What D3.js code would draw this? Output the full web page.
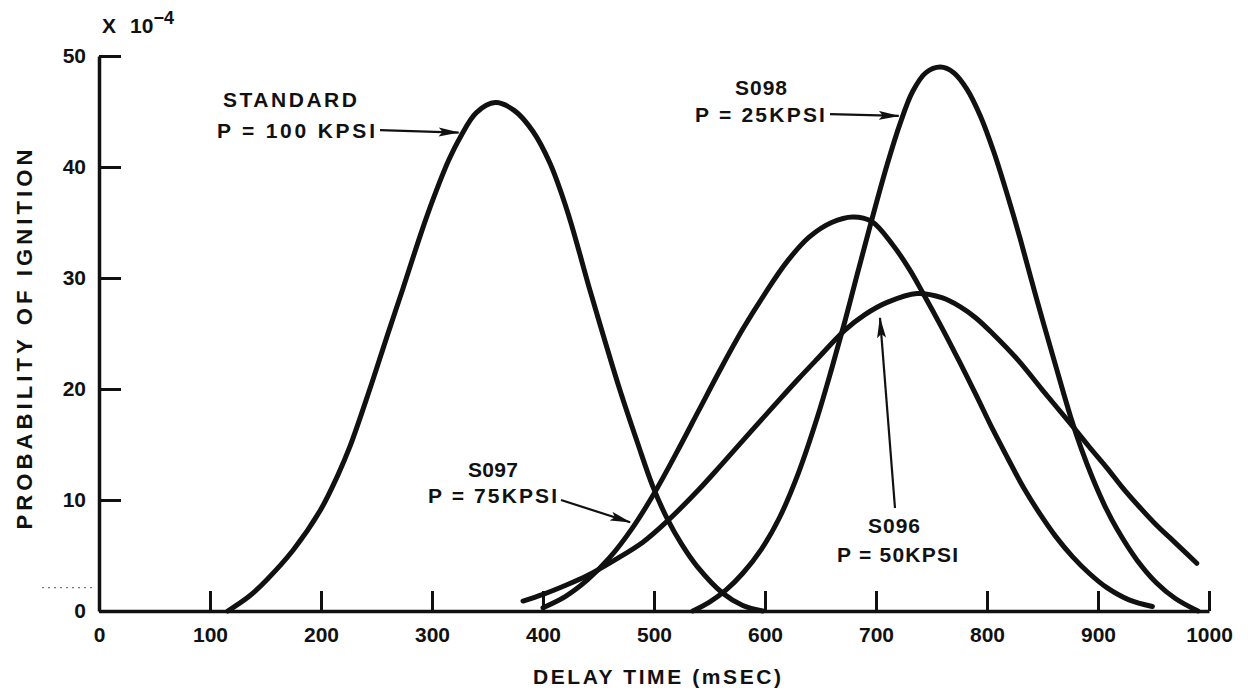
<!DOCTYPE html>
<html>
<head>
<meta charset="utf-8">
<script src="https://cdn.jsdelivr.net/npm/d3@7"></script>
<style>
  body { margin: 0; background: #fff; }
  svg text { font-family: "Liberation Sans", Arial, Helvetica, sans-serif; font-weight: bold; fill: #111; }
</style>
</head>
<body>
<svg id="chart" width="1251" height="700"></svg>
<script>
// tick values
const xTicks = [0, 100, 200, 300, 400, 500, 600, 700, 800, 900, 1000];
const yTicks = [0, 10, 20, 30, 40, 50];

// curves: [delay time (mSEC), probability x 10^-4]
const standard = [
  [116, 0], [135, 1.3], [151, 2.8], [175, 5.5], [199, 9.0], [215, 12.2], [226, 14.8],
  [244, 20.0], [260, 24.9], [274, 29.1], [290, 34.0], [301, 37.1], [315, 40.6], [325, 42.6],
  [340, 44.9], [357, 45.8], [374, 45.1], [391, 43.2], [406, 40.4], [422, 36.0], [442, 29.0],
  [455, 24.6], [469, 20.0], [485, 15.2], [499, 11.2], [512, 8.3], [525, 6.0], [539, 4.0],
  [562, 1.6], [580, 0.5], [598, 0]
];
const s097 = [
  [400, 0.3], [420, 1.3], [440, 2.8], [460, 4.8], [480, 7.4], [499, 10.4], [520, 14.2],
  [540, 18.0], [560, 21.8], [580, 25.4], [600, 28.6], [620, 31.5], [640, 33.7], [660, 35.0],
  [679, 35.5], [696, 35.1], [715, 33.0], [730, 30.8], [742, 28.7], [760, 25.4], [776, 22.3],
  [790, 19.5], [805, 16.4], [818, 13.9], [833, 11.1], [848, 8.7], [862, 6.7], [877, 4.9],
  [892, 3.4], [908, 2.1], [928, 1.0], [949, 0.4]
];
const s096 = [
  [382, 0.9], [400, 1.5], [420, 2.3], [440, 3.2], [463, 4.5], [490, 6.2], [512, 8.1],
  [540, 10.9], [560, 13.1], [584, 15.8], [610, 18.7], [630, 20.9], [647, 22.7], [672, 25.3],
  [690, 26.7], [710, 27.8], [737, 28.6], [760, 28.2], [776, 27.4], [790, 26.4], [805, 25.0],
  [828, 22.6], [850, 19.9], [875, 16.9], [892, 14.8], [908, 12.9], [923, 11.0], [938, 9.3],
  [953, 7.7], [968, 6.3], [989, 4.3]
];
const s098 = [
  [535, 0], [550, 0.8], [565, 1.9], [580, 3.4], [597, 5.6], [613, 8.4], [630, 12.4],
  [647, 17.4], [660, 21.8], [672, 26.1], [683, 30.3], [695, 34.8], [710, 40.2], [722, 44.0],
  [733, 46.8], [745, 48.5], [758, 49.0], [770, 48.5], [782, 47.0], [794, 44.6], [806, 41.4],
  [818, 37.6], [830, 33.5], [845, 28.0], [861, 22.4], [875, 17.6], [885, 14.6], [895, 12.0],
  [906, 9.5], [917, 7.4], [935, 4.6], [953, 2.5], [970, 1.1], [990, 0]
];

const curves = [standard, s097, s096, s098];

// labels with their arrows (in data units)
const notes = [
  {lines: [{t: 'STANDARD', x: 111.7, y: 45.4, w: 134}, {t: 'P = 100 KPSI', x: 106.3, y: 42.6, w: 158}],
   arrow: [[253.2, 43.33], [324.0, 43.1]]},
  {lines: [{t: 'S098', x: 573.0, y: 46.49, w: 52}, {t: 'P = 25KPSI', x: 536.9, y: 44.05, w: 130}],
   arrow: [[658.6, 44.77], [720.5, 44.6]]},
  {lines: [{t: 'S097', x: 332.4, y: 12.07, w: 50}, {t: 'P = 75KPSI', x: 296.4, y: 9.73, w: 129}],
   arrow: [[416.2, 10.0], [478.5, 8.0]]},
  {lines: [{t: 'S096', x: 692.8, y: 7.03, w: 52}, {t: 'P = 50KPSI', x: 664.9, y: 4.41, w: 121}],
   arrow: [[717.1, 9.28], [703.6, 26.4]]}
];

const svg = d3.select('#chart');
const x = d3.scaleLinear().domain([0, 1000]).range([99, 1209]);
const y = d3.scaleLinear().domain([0, 50]).range([611, 56]);

svg.append('defs').append('marker')
  .attr('id', 'head')
  .attr('markerUnits', 'userSpaceOnUse')
  .attr('markerWidth', 22).attr('markerHeight', 10)
  .attr('refX', 20).attr('refY', 4.5)
  .attr('orient', 'auto')
  .append('path').attr('d', 'M0,0 L21,4.5 L0,9 L4,4.5 Z').attr('fill', '#111');

// scan speck near the axis
svg.append('line')
  .attr('x1', 42).attr('x2', 92).attr('y1', y(2.1)).attr('y2', y(2.1))
  .attr('stroke', '#777').attr('stroke-width', 1.2).attr('stroke-dasharray', '2,4');

// axes
let yAxis = svg.append('g')
  .attr('transform', `translate(${x(0)},0)`)
  .call(d3.axisLeft(y).tickValues(yTicks).tickSize(-22).tickSizeOuter(0).tickPadding(13));
let xAxis = svg.append('g')
  .attr('transform', `translate(0,${y(0)})`)
  .call(d3.axisBottom(x).tickValues(xTicks).tickFormat(d3.format('d'))
    .tickSize(-20).tickSizeOuter(0).tickPadding(16));

[xAxis, yAxis].forEach(function (g) {
  g.select('.domain').attr('stroke', '#111').attr('stroke-width', 3.5);
  g.selectAll('.tick line').attr('stroke', '#111').attr('stroke-width', 3);
  g.selectAll('.tick text').attr('font-size', 21).attr('fill', '#111')
    .style('font-family', '"Liberation Sans", Arial, sans-serif').style('font-weight', 'bold');
});

// multiplier
let mult = svg.append('text').attr('x', x(0) + 3).attr('y', y(50) - 23).attr('font-size', 21);
mult.append('tspan').text('X');
mult.append('tspan').attr('dx', 14).text('10');
mult.append('tspan').attr('dy', -9).attr('font-size', 18).text('\u22124');

// axis titles
svg.append('text')
  .attr('transform', `translate(32,${(y(0) + y(50)) / 2 + 6}) rotate(-90)`)
  .attr('text-anchor', 'middle').attr('font-size', 22)
  .attr('textLength', 380).attr('lengthAdjust', 'spacing')
  .text('PROBABILITY OF IGNITION');
svg.append('text')
  .attr('x', 657).attr('y', 684)
  .attr('text-anchor', 'middle').attr('font-size', 21)
  .attr('textLength', 248).attr('lengthAdjust', 'spacing')
  .text('DELAY TIME (mSEC)');

// curves
const line = d3.line()
  .x(d => x(d[0]))
  .y(d => y(d[1]))
  .curve(d3.curveCatmullRom.alpha(0.5));

svg.append('g').selectAll('path')
  .data(curves)
  .join('path')
  .attr('d', line)
  .attr('fill', 'none')
  .attr('stroke', '#111')
  .attr('stroke-width', 5)
  .attr('stroke-linecap', 'round')
  .attr('stroke-linejoin', 'round');

// labels and arrows
notes.forEach(function (n) {
  n.lines.forEach(function (l) {
    svg.append('text')
      .attr('x', x(l.x)).attr('y', y(l.y))
      .attr('font-size', 21)
      .attr('textLength', l.w).attr('lengthAdjust', 'spacing')
      .text(l.t);
  });
  svg.append('line')
    .attr('x1', x(n.arrow[0][0])).attr('y1', y(n.arrow[0][1]))
    .attr('x2', x(n.arrow[1][0])).attr('y2', y(n.arrow[1][1]))
    .attr('stroke', '#111').attr('stroke-width', 2.2)
    .attr('marker-end', 'url(#head)');
});
</script>
</body>
</html>
